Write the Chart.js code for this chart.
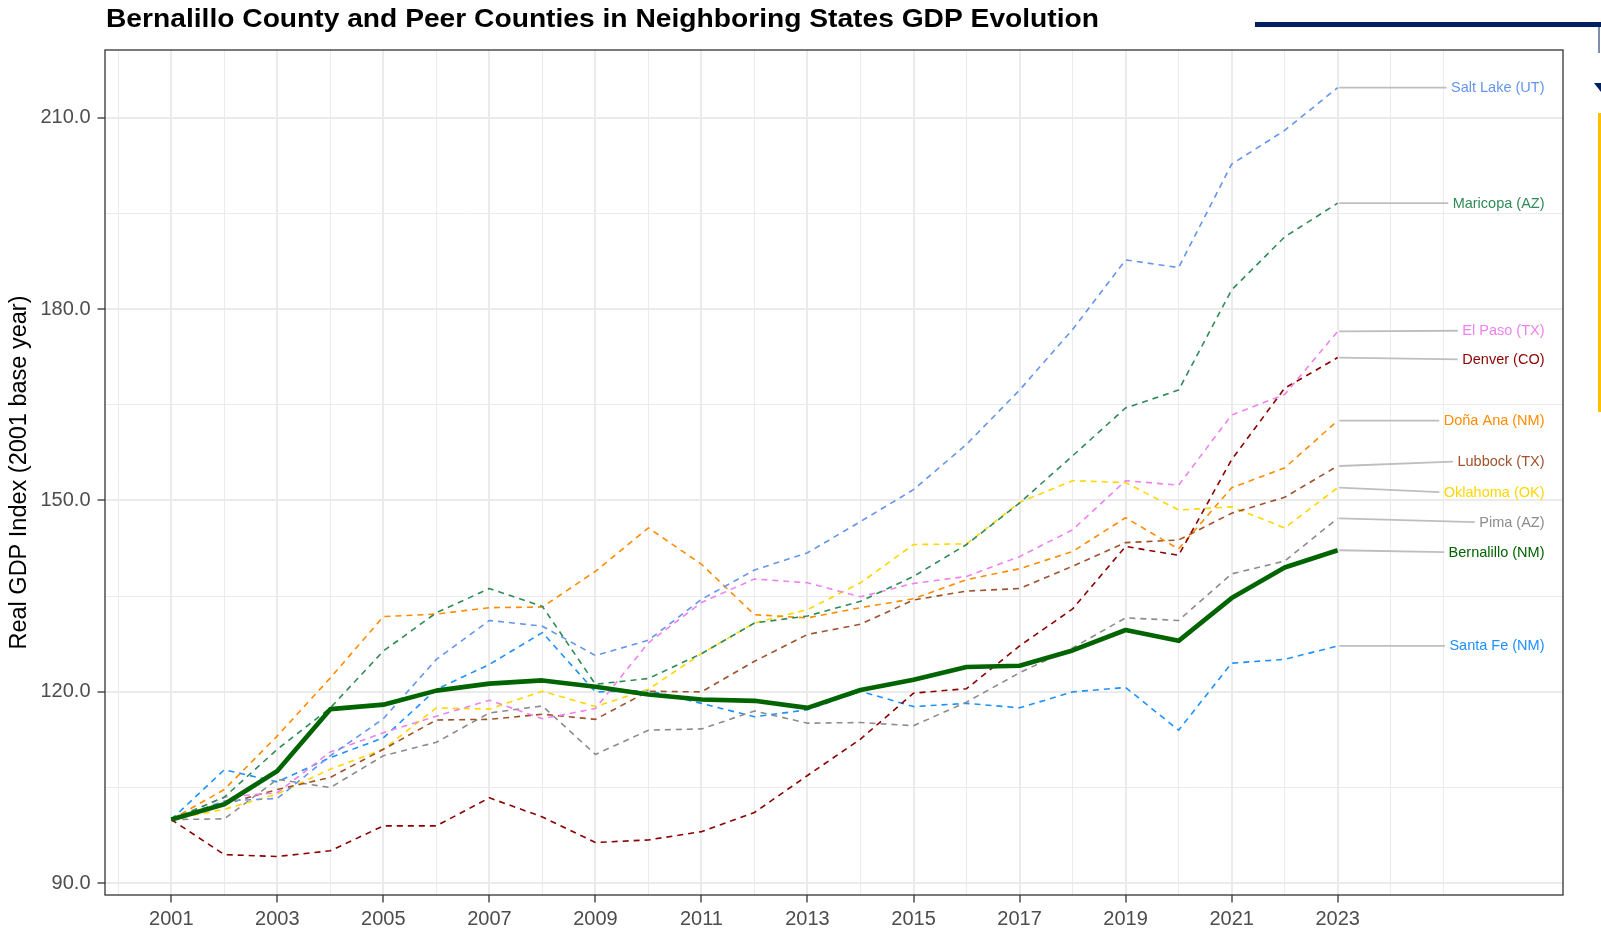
<!DOCTYPE html>
<html><head><meta charset="utf-8">
<script src="https://cdn.jsdelivr.net/npm/chart.js@4"></script>
<style>
html,body{margin:0;padding:0;background:#fff;overflow:hidden;width:1601px;height:928px;}
#wrap{position:relative;width:1601px;height:928px;overflow:hidden;}
canvas{position:absolute;left:0;top:0;}
.deco{position:absolute;}
</style></head><body>
<div id="wrap">
<canvas id="c" width="1601" height="928"></canvas>
<div class="deco" style="left:1255px;top:22px;width:346px;height:5px;background:#002060"></div>
<div class="deco" style="left:1598px;top:27px;width:2px;height:26px;background:#7f8db0"></div>
<div class="deco" style="left:1594px;top:83px;width:0;height:0;border-left:7px solid transparent;border-right:7px solid transparent;border-top:9px solid #002060"></div>
<div class="deco" style="left:1598px;top:113px;width:3px;height:299px;background:#FFC000"></div>
</div>
<script>
// ---------- DATA ----------
const chartTitle = "Bernalillo County and Peer Counties in Neighboring States GDP Evolution";
const yAxisTitle = "Real GDP Index (2001 base year)";
const years = [2001,2002,2003,2004,2005,2006,2007,2008,2009,2010,2011,2012,2013,2014,2015,2016,2017,2018,2019,2020,2021,2022,2023];
const xTickYears = [2001,2003,2005,2007,2009,2011,2013,2015,2017,2019,2021,2023];
const xGridYears = [2000,2001,2002,2003,2004,2005,2006,2007,2008,2009,2010,2011,2012,2013,2014,2015,2016,2017,2018,2019,2020,2021,2022,2023,2024,2025];
const yTickValues = [90,120,150,180,210];
const yGridValues = [90,105,120,135,150,165,180,195,210];

const saltLake   = [100,102.9,103.3,110.0,115.8,125.1,131.2,130.3,125.7,128.1,134.5,139.1,141.8,146.7,151.7,158.8,167.3,176.8,187.7,186.5,202.7,208.0,214.7];
const maricopa   = [100,103.5,111.0,117.5,126.4,132.4,136.2,133.4,121.2,122.1,126.0,130.8,131.9,134.2,138.1,143.1,149.6,157.0,164.5,167.3,183.0,191.3,196.6];
const elPaso     = [100,103.5,104.2,110.6,113.6,116.2,118.7,115.8,117.4,127.7,134.0,137.7,137.1,134.9,137.0,138.1,141.2,145.4,153.1,152.4,163.4,166.6,176.5];
const denver     = [100,94.5,94.2,95.1,99.0,99.0,103.4,100.4,96.4,96.8,98.1,101.1,106.9,112.6,119.8,120.5,127.2,133.0,142.8,141.4,156.4,167.6,172.4];
const donaAna    = [100,104.7,113.1,122.2,131.8,132.2,133.2,133.3,138.9,145.7,140.0,132.1,131.6,133.2,134.6,137.6,139.3,142.0,147.3,142.4,152.0,155.1,162.5];
const lubbock    = [100,102.4,104.7,106.6,111.0,115.6,115.7,116.5,115.7,120.1,120.0,124.8,129.0,130.6,134.4,135.8,136.2,139.7,143.4,143.8,148.0,150.5,155.4];
const oklahoma   = [100,101.6,104.0,107.9,111.0,117.5,117.3,120.1,117.7,120.4,126.0,130.8,132.9,137.1,143.1,143.2,149.7,153.1,152.8,148.5,149.0,145.7,152.0];
const pima       = [100,100.1,106.3,105.0,110.0,112.1,116.7,117.8,110.2,114.0,114.2,117.0,115.1,115.2,114.7,118.4,123.0,126.9,131.6,131.2,138.5,140.5,147.2];
const bernalillo = [100,102.4,107.6,117.3,118.0,120.2,121.3,121.8,120.8,119.6,118.8,118.6,117.5,120.3,121.9,123.9,124.1,126.5,129.7,128.0,134.7,139.5,142.2];
const santaFe    = [100,107.8,105.9,109.7,112.8,120.4,124.3,129.3,120.0,120.2,118.2,116.1,117.2,120.1,117.7,118.2,117.5,120.0,120.7,114.0,124.5,125.1,127.2];

const seriesNames = ["Salt Lake (UT)","Maricopa (AZ)","El Paso (TX)","Denver (CO)","Doña Ana (NM)","Lubbock (TX)","Oklahoma (OK)","Pima (AZ)","Bernalillo (NM)","Santa Fe (NM)"];
const seriesValues = [saltLake,maricopa,elPaso,denver,donaAna,lubbock,oklahoma,pima,bernalillo,santaFe];

// ---------- STYLE ----------
const seriesColors = ["#6495ED","#2E8B57","#EE82EE","#8B0000","#FF8C00","#A0522D","#FFD700","#8C8C8C","#006400","#1E90FF"];
const highlight = "Bernalillo (NM)";
const labelNudge = [0,0,0.1,-0.3,0,0.7,-0.7,-0.6,-0.3,0]; // label offset (value units) from the last point
const FONT = '"Liberation Sans", Arial, Helvetica, sans-serif';

const datasets = seriesNames.map((name,i)=>{
  const hl = name === highlight;
  return {
    label: name,
    data: years.map((yr,j)=>({x:yr, y:seriesValues[i][j]})),
    borderColor: seriesColors[i],
    backgroundColor: seriesColors[i],
    borderWidth: hl ? 4.6 : 1.6,
    borderDash: hl ? [] : [6,5],
    borderJoinStyle: 'round',
    pointRadius: 0,
    tension: 0,
    fill: false,
    order: hl ? 0 : 1
  };
});

const titlePlugin = {
  id:'titleText',
  afterDraw(chart){
    const ctx = chart.ctx;
    ctx.save();
    ctx.font = 'bold 25px ' + FONT;
    ctx.fillStyle = '#000';
    ctx.textAlign = 'left';
    ctx.textBaseline = 'alphabetic';
    const target = 993;
    const w = ctx.measureText(chartTitle).width;
    ctx.translate(106, 27);
    ctx.scale(target / w, 1);
    ctx.fillText(chartTitle, 0, 0);
    ctx.restore();
  }
};

const borderPlugin = {
  id:'panelBorder',
  afterDraw(chart){
    const {ctx, chartArea:a} = chart;
    ctx.save();
    ctx.strokeStyle = '#333333';
    ctx.lineWidth = 1.3;
    ctx.strokeRect(a.left, a.top, a.right-a.left, a.bottom-a.top);
    ctx.restore();
  }
};

const labelPlugin = {
  id:'endLabels',
  afterDatasetsDraw(chart){
    const {ctx, chartArea, scales:{x,y}} = chart;
    ctx.save();
    ctx.font = '14.5px ' + FONT;
    ctx.textBaseline = 'middle';
    ctx.textAlign = 'right';
    const xr = chartArea.right - 18.5;
    const lastYear = years[years.length-1];
    seriesNames.forEach((name,i)=>{
      const vals = seriesValues[i];
      const v = vals[vals.length-1];
      const x0 = x.getPixelForValue(lastYear) + 1.5;
      const y0 = y.getPixelForValue(v);
      const y1 = y.getPixelForValue(v + labelNudge[i]);
      const w = ctx.measureText(name).width;
      ctx.strokeStyle = '#BEBEBE';
      ctx.lineWidth = 1.8;
      ctx.setLineDash([]);
      ctx.beginPath(); ctx.moveTo(x0,y0); ctx.lineTo(xr - w - 4.5, y1); ctx.stroke();
      ctx.fillStyle = seriesColors[i];
      ctx.fillText(name, xr, y1 + 0.5);
    });
    ctx.restore();
  }
};

const isMajorX = v => xTickYears.includes(v);
const isMajorY = v => yTickValues.includes(v);

new Chart(document.getElementById('c'), {
  type:'line',
  data:{datasets},
  plugins:[titlePlugin, labelPlugin, borderPlugin],
  options:{
    responsive:false,
    animation:false,
    events:[],
    layout:{padding:{top:50,right:38,left:0,bottom:0}},
    plugins:{legend:{display:false}, tooltip:{enabled:false}, title:{display:false}},
    scales:{
      x:{
        type:'linear', min:1999.75, max:2027.25,
        afterBuildTicks(s){ s.ticks = xGridYears.map(v=>({value:v})); },
        afterFit(s){ s.height = 33; },
        border:{display:false},
        grid:{
          color:'#EBEBEB',
          lineWidth: c => isMajorX(c.tick && c.tick.value) ? 2 : 1,
          tickLength: 7.5,
          tickWidth: 1.3,
          tickColor: c => isMajorX(c.tick && c.tick.value) ? '#333333' : 'rgba(0,0,0,0)'
        },
        ticks:{
          autoSkip:false, maxRotation:0, minRotation:0, padding:5,
          color:'#4D4D4D', font:{family:FONT, size:20},
          callback: v => isMajorX(v) ? String(v) : ''
        }
      },
      y:{
        type:'linear', min:88.17, max:220.6,
        afterBuildTicks(s){ s.ticks = yGridValues.map(v=>({value:v})); },
        afterFit(s){ s.width = 105; },
        border:{display:false},
        grid:{
          color:'#EBEBEB',
          lineWidth: c => isMajorY(c.tick && c.tick.value) ? 2 : 1,
          tickLength: 7.5,
          tickWidth: 1.3,
          tickColor: c => isMajorY(c.tick && c.tick.value) ? '#333333' : 'rgba(0,0,0,0)'
        },
        ticks:{
          autoSkip:false, padding:7,
          color:'#4D4D4D', font:{family:FONT, size:20},
          callback: v => isMajorY(v) ? v.toFixed(1) : ''
        },
        title:{display:true, text:yAxisTitle, color:'#000', font:{family:FONT, size:23.5}, padding:{top:5,bottom:0}}
      }
    }
  }
});
</script>
</body></html>
